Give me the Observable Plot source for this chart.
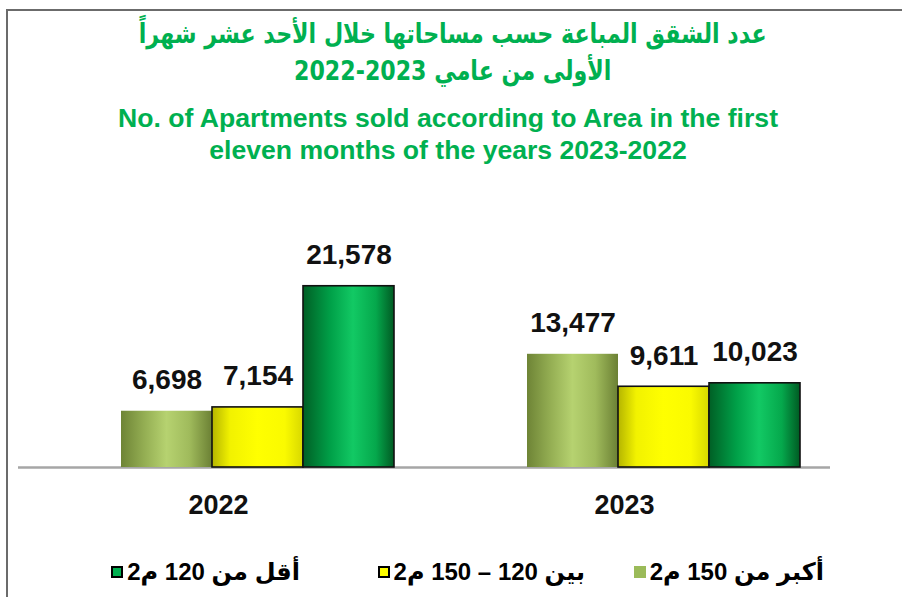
<!DOCTYPE html>
<html><head><meta charset="utf-8">
<script src="https://cdn.jsdelivr.net/npm/d3@7"></script>
<script src="https://cdn.jsdelivr.net/npm/@observablehq/plot@0.6"></script>
<style>
body{margin:0;background:#fff;}
#wrap{position:relative;width:902px;height:597px;overflow:hidden;background:#fff;}
#frame{position:absolute;left:6px;top:9px;right:-10px;bottom:-10px;border-top:2px solid #6b6b6b;border-left:2px solid #6b6b6b;}
.t{position:absolute;left:0;width:896px;text-align:center;color:#00b050;font-weight:bold;white-space:nowrap;}
.ar{font-family:"DejaVu Sans",sans-serif;font-size:27px;direction:rtl;transform:scaleX(0.82);transform-origin:452px 0;left:4px;}
.en{font-family:"Liberation Sans Narrow","Arial Narrow","Liberation Sans",sans-serif;font-size:26.6px;}
#chart{position:absolute;left:0;top:0;}
.lg{position:absolute;top:558px;height:28px;display:flex;align-items:center;direction:rtl;font-weight:bold;font-size:24px;font-family:"Liberation Sans","DejaVu Sans",sans-serif;color:#000;white-space:nowrap;}
.sw{width:12px;height:12px;box-sizing:border-box;margin-right:4px;}
</style></head><body>
<div id="wrap">
  <div id="frame"></div>
  <div id="chart"></div>
  <div class="t ar" id="t1" style="top:16px;line-height:36px;"></div>
  <div class="t ar" id="t2" style="top:53px;line-height:36px;"></div>
  <div class="t en" id="t3" style="top:103px;line-height:30px;"></div>
  <div class="t en" id="t4" style="top:135px;line-height:30px;"></div>
  <div id="legend"></div>
</div>
<script>
// ---- data ----
const titleAr = ["عدد الشقق المباعة حسب مساحاتها خلال الأحد عشر شهراً", "الأولى من عامي 2023-2022"];
const titleEn = ["No. of Apartments sold according to Area in the first", "eleven months of the years 2023-2022"];
const years = ["2022", "2023"];
const seriesNames = ["أكبر من 150 م2", "بين 120 – 150 م2", "أقل من 120 م2"];
const values2022 = [6698, 7154, 21578];
const values2023 = [13477, 9611, 10023];

const rows = [];
[values2022, values2023].forEach((vals, i) => vals.forEach((v, j) => rows.push({year: years[i], series: seriesNames[j], value: v})));

document.getElementById("t1").textContent = titleAr[0];
document.getElementById("t2").textContent = titleAr[1];
document.getElementById("t3").textContent = titleEn[0];
document.getElementById("t4").textContent = titleEn[1];

const fmt = d3.format(",");
const barMarks = {fx: "year", x: "series", y: "value", fill: "series"};

const svg = Plot.plot({
  width: 902, height: 597,
  marginTop: 257, marginBottom: 130, marginLeft: 18, marginRight: 72,
  style: {fontFamily: "Liberation Sans, Arial, sans-serif", background: "transparent"},
  fx: {domain: years, padding: 0, label: null},
  x: {domain: seriesNames, padding: 0, insetLeft: 102, insetRight: 30, axis: null},
  y: {domain: [0, 25000], axis: null},
  color: {domain: seriesNames, range: ["url(#gOlive)", "url(#gYellow)", "url(#gGreen)"]},
  marks: [
    Plot.ruleY([0], {stroke: "#a6a6a6", strokeWidth: 2.5}),
    Plot.barY(rows.filter(d => d.series === seriesNames[0]), barMarks),
    Plot.barY(rows.filter(d => d.series !== seriesNames[0]), {...barMarks, stroke: "#111", strokeWidth: 1.6}),
    Plot.text(rows, {fx: "year", x: "series", y: "value", text: d => fmt(d.value), dy: -31, fontSize: 28, fontWeight: "bold", fill: "#111", lineAnchor: "middle"}),
    Plot.axisFx({anchor: "bottom", tickSize: 0, tickPadding: 27, fontSize: 27, fontWeight: "bold", fill: "#111", label: null, dx: -3})
  ]
});

const defs = d3.select(svg).insert("defs", ":first-child");
function grad(id, stops) {
  const g = defs.append("linearGradient").attr("id", id).attr("x1", 0).attr("x2", 1).attr("y1", 0).attr("y2", 0);
  stops.forEach(([o, c]) => g.append("stop").attr("offset", o).attr("stop-color", c));
}
grad("gOlive", [[0, "#6e8436"], [0.25, "#93ad52"], [0.5, "#b6d270"], [0.75, "#a0bb5c"], [1, "#6b8034"]]);
grad("gYellow", [[0, "#b5b500"], [0.2, "#f2f200"], [0.5, "#ffff00"], [0.8, "#fafa00"], [1, "#d8d800"]]);
grad("gGreen", [[0, "#005f25"], [0.3, "#00a048"], [0.55, "#12c964"], [0.8, "#05a84c"], [1, "#005a23"]]);

document.getElementById("chart").appendChild(svg);

// ---- legend ----
const legendColors = [
  {bg: "#9bbb59", border: "none", right: 78},
  {bg: "#ffff00", border: "2px solid #000", right: 317},
  {bg: "#00b050", border: "2px solid #000", right: 602}
];
const lg = document.getElementById("legend");
seriesNames.forEach((name, i) => {
  const it = document.createElement("div");
  it.className = "lg";
  it.style.right = legendColors[i].right + "px";
  const tx = document.createElement("span");
  tx.textContent = name;
  const sw = document.createElement("span");
  sw.className = "sw";
  sw.style.background = legendColors[i].bg;
  sw.style.border = legendColors[i].border;
  it.appendChild(tx); it.appendChild(sw);
  lg.appendChild(it);
});
</script>
</body></html>
